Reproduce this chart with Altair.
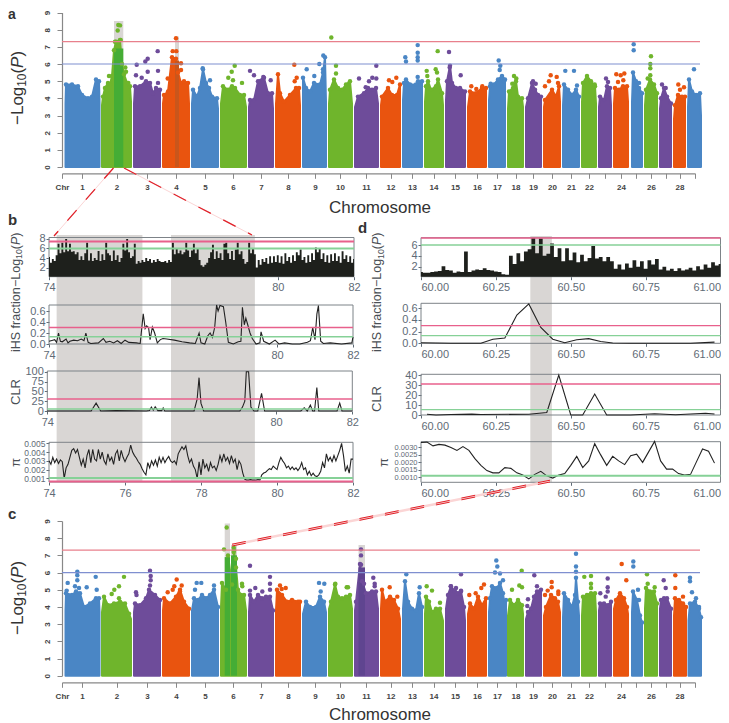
import bisect
import altair as alt
import pandas as pd

W, H, M = 713, 716, 8
FONT = "Liberation Sans"
COLORS = ["#4a86c5", "#6fb52c", "#6e4c9a", "#e9540f"]
GROUPS = ["blue", "green", "purple", "orange"]

# ---------- genome layout ----------
chr_starts = [62, 101, 133, 162, 191, 220, 248, 275, 302, 328, 354, 380, 402, 424, 445, 467, 488, 507, 525, 543, 562, 581, 598, 613, 631, 644, 659, 673, 687]
tick_pos = [62, 82, 116.5, 147, 176, 205, 233, 261, 288, 315, 340, 366, 390.5, 412, 433.5, 455, 477, 497, 515.5, 533, 552, 571, 589, 604.5, 621, 636, 651, 665.5, 679.5, 694.5]
tick_lab = ["Chr", "1", "2", "3", "4", "5", "6", "7", "8", "9", "10", "11", "12", "13", "14", "15", "16", "17", "18", "19", "20", "21", "22", "", "24", "", "26", "", "28", ""]

# ---------- panel a ----------
a_x = [
 [64.5,66,72,78,82,88,92,96,99,100.5],[101,103,105,108,110,112,114,116,120,122,124,127,130,132],
 [133,135,140,146,150,153,156,160,161],[162,164,168,172,176,178,181,184,188,190],
 [191,193,197,200,203,206,209,212,217,219],[220,223,228,232,235,240,244,247],
 [248,250,254,258,264,268,272,274],[275,278,280,284,290,296,299,301],
 [302,303,306,310,314,320,323,325,327],[328,330,334,338,342,346,350,353],
 [354,358,364,368,372,376,379],[380,382,388,392,397,400,401],[402,404,406,410,416,418,422,423],
 [424,426,428,431,436,438,442,444],[445,447,450,452,456,460,465,466],[467,470,476,482,486,487],
 [488,490,494,498,502,505,506],[507,509,513,516,518,522,524],[525,528,532,535,538,541,542],
 [543,545,552,556,559,561],[562,564,568,572,576,579,580],[581,583,587,591,595,597],
 [598,600,604,607,610,612],[613,615,619,623,627,629],[631,633,636,639,642,643],
 [644,646,650,654,657,658],[659,661,664,667,671,672],[673,675,678,682,685,686],[687,689,692,696,700,702]]
a_y = [
 [3.7,4.8,4.8,4.7,4.2,4.0,4.1,5.1,5.0,3.8],[3.6,4.1,4.6,4.9,4.8,5.3,6.8,7.3,7.4,6.0,5.4,4.9,4.7,3.8],
 [3.7,4.7,4.7,5.0,4.9,4.3,4.6,4.5,3.6],[3.7,4.2,4.4,6.4,6.3,5.5,4.9,5.0,4.9,3.7],
 [3.7,4.5,4.1,4.6,5.7,4.9,4.6,4.1,4.0,3.4],[3.7,4.7,4.5,4.7,4.6,4.2,4.2,3.5],
 [3.5,3.9,3.9,5.0,5.2,4.3,4.3,3.4],[3.7,5.4,4.3,3.8,4.2,4.6,4.6,3.6],
 [3.8,5.2,4.6,4.4,4.9,4.8,5.5,6.4,3.8],[3.7,4.5,5.1,4.6,4.5,4.8,5.0,3.7],
 [3.5,4.1,4.3,4.6,4.5,4.6,3.7],[3.6,4.1,4.6,4.2,4.2,4.8,3.7],[3.9,4.9,5.1,4.8,4.8,5.0,5.0,3.8],
 [3.8,4.7,5.0,4.5,4.7,5.1,4.3,3.6],[3.9,5.0,5.9,4.9,4.6,4.6,4.4,3.7],[3.5,4.4,4.3,4.6,4.6,3.6],
 [3.9,4.7,4.8,5.1,5.3,5.1,3.6],[3.4,4.4,4.6,5.0,4.1,4.0,3.5],[3.5,4.0,4.9,4.5,4.2,4.1,3.5],
 [3.5,3.9,4.5,4.1,4.7,3.8],[3.6,4.8,4.5,4.2,4.5,4.1,3.5],[3.8,4.9,5.3,5.0,4.7,3.7],
 [3.5,4.1,3.9,4.7,4.6,3.6],[3.7,4.6,4.5,4.7,4.7,3.8],[3.8,5.5,5.0,4.6,4.3,3.5],
 [3.6,4.5,5.1,4.8,4.3,3.3],[3.4,4.0,4.6,4.1,3.7,3.1],[2.8,3.6,4.2,4.1,4.1,3.2],[3.5,5.1,4.4,4.2,4.3,3.0]]
a_dot_x = [118.3,120,117.7,115,120.7,125.3,126,109,128.3,136.7,157.7,147.7,145.3,158,147.7,141.7,136,158,176,172.7,176.3,181,167.7,181,202.7,210,234.7,231.7,228.3,233,242,250,254,270.7,263.3,294.3,296.7,294.7,306.7,314.3,319.3,323.3,323,331.3,336,336,359,376.3,369,372.3,376.3,365.7,389,396.3,392.3,405.3,406,417.7,417.7,417.7,417.7,417.7,426.7,427.3,437.7,435.7,437,449,460.7,449.7,471.3,482.3,476.3,498.7,500.3,499.7,490.7,504,514,516.3,512.3,533,535.7,550.7,556.7,549,545,558,565.3,574,577,594.7,606,608,616.3,620.7,624.3,618,623.3,633.7,633.7,639,651,650.3,650.3,650.3,647.7,662,665.7,678.3,684,680,694]
a_dot_y = [8.27,8.25,7.95,7.3,7.4,5.8,5.55,5.3,4.9,5.95,6.75,6.3,6.15,5.6,5.55,5.2,5.35,4.9,7.5,6.75,6.75,6.05,5.15,5.65,5.75,5.05,5.9,5.55,5.2,5.05,4.9,5.6,5.35,5.05,5.25,5.95,5.2,5.0,5.7,5.3,6.0,6.5,5.7,7.55,5.9,5.45,5.15,5.9,5.0,5.2,5.15,4.65,5.05,5.2,4.95,6.4,6.15,7.1,6.65,6.4,6.2,5.25,5.6,5.3,6.75,5.7,5.5,6.7,5.35,5.8,4.7,4.7,4.55,6.2,5.9,5.65,4.85,5.0,5.3,5.15,4.85,5.0,4.85,5.35,5.25,5.0,4.7,4.9,5.6,5.6,4.75,4.8,5.15,4.95,5.4,5.35,5.45,4.95,5.05,7.15,6.8,4.9,6.45,6.0,5.75,5.35,5.15,4.8,4.6,4.8,4.65,4.5,5.7]

# ---------- panel c ----------
c_x = [
 [64.5,66,72,76,80,84,90,96,99,100.5],[101,104,108,114,120,125,129,132],[133,135,140,146,149,155,160,161],
 [162,164,170,176,180,184,189,190],[191,194,198,202,206,210,214,218,219],[220,222,226,228,232,234,236,238,241,244,247],
 [248,250,254,258,262,266,270,273,274],[275,277,282,287,292,298,300,301],[302,306,310,316,320,324,327],
 [328,331,335,338,342,346,350,353],[354,356,360,362,366,372,376,379],[380,382,385,390,394,398,401],
 [402,405,408,412,416,419,422,423],[424,426,429,432,436,440,444],[445,448,451,455,458,461,464,466],
 [467,470,474,478,482,486,487],[488,490,492,497,500,503,506,506.5],[507,510,514,518,522,524],
 [525,528,531,534,537,541,542],[543,546,551,555,558,561],[562,564,568,572,575,576,578,580],
 [581,583,587,591,595,597],[598,600,604,608,611,612],[613,616,620,624,627,629],[631,633,637,640,642,643],
 [644,646,650,654,657,658],[659,661,664,667,671,672],[673,675,679,683,686,687],[687.5,690,695,699,701,702]]
c_y = [
 [3.8,4.8,4.7,4.9,4.8,4.0,4.2,4.5,4.5,3.7],[3.7,4.6,4.1,4.2,4.3,4.2,3.6,3.3],[3.7,4.2,4.1,4.5,5.0,4.7,4.4,3.7],
 [3.8,4.5,4.2,4.6,5.0,4.3,3.9,3.5],[3.8,4.5,4.4,4.7,4.5,4.7,5.0,4.0,3.7],[4.0,5.4,5.0,7.0,5.3,7.3,6.3,5.0,4.7,4.7,3.8],
 [3.7,4.7,4.3,4.7,4.5,4.6,4.6,3.8,3.4],[3.8,5.0,4.7,4.3,4.4,4.3,4.3,3.6],[3.6,4.3,4.0,4.0,4.6,4.3,3.7],
 [3.9,4.3,5.3,4.6,4.5,4.6,4.7,3.9],[3.8,4.3,6.5,5.5,4.8,4.9,4.9,3.9],[3.9,5.0,4.3,4.6,4.4,3.9,3.3],
 [3.9,5.5,4.3,3.9,3.8,4.8,4.0,3.3],[3.6,4.6,4.3,3.7,3.9,3.9,3.2],[3.9,4.7,5.2,4.9,4.8,4.9,4.0,3.2],
 [3.6,4.2,3.9,4.6,4.1,4.5,3.7],[3.7,4.5,5.2,5.1,5.4,4.8,4.4,3.7],[3.5,4.4,4.1,4.4,4.1,3.6],
 [3.3,3.7,3.9,4.6,4.9,5.0,3.6],[3.5,4.0,4.7,4.5,4.3,3.7],[3.4,4.8,4.4,4.0,4.7,5.7,4.3,3.5],
 [3.5,4.6,4.7,4.8,4.8,3.7],[3.8,4.2,4.2,4.1,4.3,3.6],[3.9,4.4,4.8,4.5,4.0,3.6],[3.7,4.9,4.4,3.5,3.1,2.6],
 [3.9,5.1,4.9,4.9,4.2,3.2],[3.9,4.4,4.5,4.5,3.9,3.1],[3.5,4.5,4.4,4.2,4.0,3.2],[3.2,4.2,4.3,3.9,3.4,3.0]]
c_dot_x = [77.3,77.3,77.3,95.7,67.7,86.7,75,79,96.7,66.7,124,119,114.3,111.7,119,150,150.7,150.7,150,136,136.5,176.7,174.3,181.7,167.7,172.7,180,196.7,201.3,195,214,226.7,224,233.7,233.7,236,242,242.3,250,270,270,270,255.3,250,262.3,280,285.7,281.7,319,324.3,320.7,346.7,335.3,348,361,361,361,373.3,374.7,374.7,364,389.7,397.3,406.3,419.7,426.7,432,440,461,456,450.7,461,484,481.3,469.3,475.7,496.3,497.3,495,500,503,521.7,519.3,522,512,534.3,537,528,527.3,551.7,551.7,547.7,545,558.3,558.3,576,576,576,584.3,591,591,591,607.7,607.7,607.7,600.3,605.7,621.7,626.3,633.3,633.3,638,639,647,647.7,654.7,663.7,665.7,675.3,675.3,683,690,690,692,696,699]
c_dot_y = [6.05,5.85,5.55,5.75,5.4,5.15,5.2,5.1,5.0,4.95,5.75,5.2,5.0,4.75,4.5,6.1,5.8,5.55,5.25,4.85,4.7,5.6,5.2,5.25,4.85,5.0,4.9,5.4,5.4,5.0,5.25,8.62,7.35,7.45,7.2,6.8,5.35,5.2,6.4,5.75,5.35,5.0,5.1,4.95,4.9,5.25,5.1,5.05,5.4,5.35,4.9,5.15,5.35,5.15,7.35,7.0,6.45,5.7,5.35,5.2,5.35,5.15,4.6,5.9,5.15,5.2,4.95,4.25,5.9,5.1,5.2,4.95,5.3,5.1,4.7,4.8,6.7,6.35,6.0,5.95,5.55,6.1,5.25,5.15,5.0,5.85,5.2,4.45,4.05,5.45,5.15,4.95,4.7,4.9,4.75,7.1,6.35,6.05,5.75,5.8,5.35,5.1,5.65,5.15,4.9,4.8,4.6,6.5,5.55,6.65,6.35,5.0,4.4,5.9,5.35,5.15,5.55,5.1,5.85,5.1,4.6,5.7,5.5,4.85,4.5,4.0]

# ---------- panel b ----------
b_p_start = 74.0
b_p_step = 0.05
b_p = [4.2,3.0,3.8,3.4,4.6,7.0,5.0,7.2,5.2,8.0,5.4,7.0,5.3,5.4,4.8,5.2,3.6,4.4,3.6,5.0,
 7.2,3.5,5.0,3.4,4.0,3.6,5.5,3.4,4.8,3.6,7.2,5.0,4.6,3.4,5.6,3.6,4.6,3.2,4.0,7.0,
 5.6,8.0,5.2,4.0,4.4,7.0,2.8,3.4,3.0,3.6,3.2,4.0,3.4,3.8,3.0,3.6,3.2,3.8,3.4,3.2,
 3.2,3.4,3.0,3.6,3.2,7.2,4.8,6.0,5.0,5.6,4.8,5.2,7.2,5.6,4.2,5.6,7.0,5.0,6.0,3.6,
 2.5,2.2,2.6,3.0,4.0,5.2,6.8,3.8,5.4,4.0,5.0,3.6,7.0,7.2,5.0,3.8,5.5,3.6,5.8,7.2,
 4.8,5.4,3.8,2.8,3.2,7.2,5.0,6.0,4.8,2.0,3.6,2.6,3.8,3.2,4.0,2.8,4.4,3.0,4.4,3.2,
 4.6,3.0,4.4,2.8,5.0,3.4,4.2,3.0,4.6,3.4,5.2,4.6,5.8,3.6,4.2,3.0,4.6,3.2,5.0,3.6,
 6.2,5.2,6.0,3.8,5.0,3.2,4.6,3.0,4.8,3.4,5.0,3.4,4.4,3.0,5.4,3.8,4.6,3.2,4.4,3.0,3.8]
b_ihs_x = [74,74.1,74.15,74.2,74.25,74.3,74.35,74.45,74.5,74.55,74.65,74.75,74.85,74.92,74.97,75.03,75.1,75.3,75.43,75.5,75.6,75.7,75.8,75.9,76.0,76.1,76.3,76.4,76.48,76.53,76.57,76.62,76.66,76.72,76.78,76.85,76.93,77.0,77.1,77.3,77.5,77.7,77.85,77.95,78.0,78.1,78.18,78.24,78.3,78.36,78.41,78.45,78.5,78.59,78.65,78.72,78.85,78.98,79.05,79.09,79.14,79.18,79.23,79.29,79.35,79.45,79.55,79.58,79.65,79.8,79.95,80.05,80.2,80.4,80.6,80.8,80.88,80.94,81.0,81.05,81.09,81.15,81.22,81.4,81.7,81.97,82]
b_ihs_y = [.05,.07,.08,.03,.2,.05,.04,.09,.02,.05,.07,.06,.09,.06,.2,.03,.01,.02,.1,.03,.05,.02,.06,.01,.07,.03,.02,.01,.55,.28,.33,.3,.08,.31,.2,.02,.08,.1,.09,.07,.04,.02,.01,.2,.02,.0,.15,.2,.12,.3,.71,.6,.7,.68,.4,.03,.0,.04,.05,.67,.35,.47,.35,.2,.1,.0,.02,.22,.05,.0,.07,.0,.02,.0,.0,.03,.06,.3,.08,.55,.7,.05,.01,.02,.0,.02,.13]
b_clr_x = [74,75.15,75.28,75.4,75.8,76.6,76.68,76.73,76.78,76.83,76.9,77.0,77.04,77.08,77.85,77.93,77.98,78.03,78.1,79.05,79.12,79.18,79.22,79.28,79.34,79.42,79.52,79.62,79.7,80.65,80.74,80.82,80.9,80.96,81.01,81.07,81.12,81.6,81.67,81.73,82]
b_clr_y = [0,0,20,0,1,0,1,10,2,11,1,1,8,0,0,30,85,20,0,0,10,25,100,100,10,0,0,45,0,0,8,0,15,0,0,60,0,0,20,0,0]
b_pi_start = 74.0
b_pi_step = 0.05
b_pi = [3.0,2.6,3.4,2.8,3.2,2.7,3.1,2.9,1.0,2.2,2.6,3.4,4.2,4.4,3.9,4.3,3.4,2.5,3.2,2.2,
 3.6,4.3,2.8,4.3,3.2,3.0,4.3,3.2,4.0,3.0,2.6,3.8,3.0,3.4,2.6,3.8,4.2,3.0,4.2,3.4,
 2.9,3.4,3.8,4.8,4.0,3.6,3.3,2.9,2.6,2.1,1.7,1.4,2.8,2.2,3.0,2.5,3.1,2.4,3.4,2.8,
 3.4,2.8,3.2,3.5,3.0,2.8,3.0,2.6,3.8,4.2,4.6,4.3,4.7,3.6,2.8,3.2,2.4,2.0,1.0,2.9,
 1.4,3.2,2.2,2.6,1.8,2.8,2.2,2.4,1.9,2.6,3.6,2.9,3.8,3.0,3.4,2.7,3.6,2.8,3.2,2.0,
 3.0,2.6,1.6,0.9,0.8,0.8,0.85,0.8,0.8,0.8,0.85,0.8,1.4,1.6,1.7,1.9,2.1,2.0,2.4,2.2,
 2.0,2.8,3.4,3.0,2.7,2.2,2.4,2.0,2.3,2.0,2.2,1.9,2.2,2.8,2.0,2.2,1.4,1.8,1.3,1.6,
 1.3,1.2,1.4,1.8,2.8,2.2,3.8,3.0,3.4,2.9,3.6,3.0,3.6,4.2,5.0,3.6,1.8,2.4,1.6,3.2,3.2]

# ---------- panel d ----------
d_p_start = 60.0
d_p_step = 0.0125
d_p = [1.0,0.9,0.9,1.0,1.1,1.2,2.1,1.4,1.3,0.9,1.1,1.0,4.8,1.0,1.3,1.5,1.4,1.7,1.4,1.3,
 1.1,1.0,0.6,0.5,4.0,2.5,4.5,3.0,4.8,5.2,7.3,4.5,7.2,4.0,4.4,6.3,3.8,5.4,3.0,5.4,
 3.2,4.6,2.8,4.2,3.0,3.6,5.8,3.5,3.8,3.0,3.8,3.0,1.6,2.4,1.5,2.6,1.8,3.2,2.0,3.0,
 1.6,3.2,2.4,3.4,1.5,2.0,1.3,1.6,1.2,1.7,1.3,1.5,1.8,1.3,2.1,1.5,2.4,1.8,2.8,2.2,2.5]
d_ihs_x = [60,60.1,60.2,60.24,60.28,60.32,60.36,60.40,60.44,60.48,60.52,60.56,60.6,60.64,60.7,60.9,60.98]
d_ihs_y = [.01,.0,.0,.07,.09,.48,.67,.27,.07,.01,.06,.08,.03,.005,.0,.0,.02]
d_clr_x = [60.02,60.05,60.1,60.17,60.2,60.36,60.42,60.46,60.5,60.54,60.58,60.62,60.7,60.78,60.85,60.95,60.98]
d_clr_y = [.8,0,.5,.9,.5,.8,2.5,40,0,0,21,0,0,1.2,.2,1.8,1]
d_pi_x = [60,60.02,60.04,60.06,60.08,60.1,60.12,60.14,60.16,60.18,60.2,60.22,60.24,60.26,60.28,60.3,60.32,60.34,60.36,60.38,60.4,60.42,60.44,60.46,60.48,60.5,60.52,60.54,60.56,60.58,60.6,60.62,60.64,60.66,60.68,60.7,60.72,60.74,60.76,60.78,60.8,60.82,60.84,60.86,60.88,60.9,60.92,60.94,60.96,60.98]
d_pi_y = [3.33,3.35,3.1,3.2,3.15,3.0,2.8,3.05,2.8,2.25,1.8,1.45,1.3,1.3,1.65,1.6,1.3,1.15,.9,1.2,1.4,1.1,.95,1.15,1.25,1.8,2.4,1.65,2.1,3.25,2.5,1.8,2.4,2.1,1.85,2.45,2.55,2.0,2.7,3.4,2.1,1.55,1.55,1.25,1.15,1.2,2.05,2.9,2.75,1.95]


def group_of(x):
    return GROUPS[(bisect.bisect_right(chr_starts, x) - 1) % 4]


def manhattan(xs, ys, dx, dy, top, bottom, xaxis_y, gray, dark):
    """One genome-wide panel; top/bottom are page pixels of y=9 and y=0."""
    xsc = alt.Scale(domain=[62, 695], range=[62 - M, 695 - M], nice=False, zero=False)
    ysc = alt.Scale(domain=[0, 9], range=[bottom - M, top - M], nice=False, zero=False)
    labs = "{" + ",".join(f"'{p}':'{l}'" for p, l in zip(tick_pos, tick_lab)) + "}[datum.value]||''"
    xaxis = alt.Axis(orient="bottom", values=tick_pos, labelExpr=labs, labelOverlap=False, grid=False, offset=xaxis_y - M - H,
                     labelFont=FONT, labelFontSize=8, labelFontWeight="bold", labelColor="#444444", labelPadding=5,
                     tickColor="#888888", domainColor="#888888", tickSize=5, domainWidth=1.2, tickWidth=1, labelBound=False, labelFlush=False)
    yaxis = alt.Axis(orient="left", values=list(range(10)), grid=False, offset=-(62 - M), labelAngle=270, labelAlign="center", labelBaseline="bottom",
                     labelFont=FONT, labelFontSize=8, labelFontWeight="bold", labelColor="#444444", labelPadding=6,
                     tickColor="#888888", domainColor="#888888", tickSize=5, domainWidth=1.2, tickWidth=1, labelBound=False, labelFlush=False)
    X = lambda f: alt.X(f, type="quantitative", scale=xsc, title=None, axis=xaxis)
    Y = lambda f: alt.Y(f, type="quantitative", scale=ysc, title=None, axis=yaxis)
    col = alt.Scale(domain=GROUPS, range=COLORS)
    rows = []
    for i, (cx, cy) in enumerate(zip(xs, ys)):
        for j, (px, py) in enumerate(zip(cx, cy)):
            px = px + 1 if j == 0 else px - 1 if j == len(cx) - 1 else px
            rows.append(dict(chr=i + 1, x=px, y=py, b=0.0, g=GROUPS[i % 4], edge=j in (0, len(cx) - 1)))
    env = pd.DataFrame(rows)
    dots = pd.DataFrame(dict(x=dx, y=dy))
    dots["g"] = [group_of(v) for v in dx]
    tops = pd.concat([env[~env.edge][["x", "y", "g"]], dots])
    gr = pd.DataFrame(gray, columns=["x0", "x1", "y1"])
    dk = pd.DataFrame(dark, columns=["x0", "x1", "y1", "c"])
    hl = pd.DataFrame(dict(x0=[62, 62], x1=[700, 700], y=[7.3, 6.0], c=["#e8808c", "#7f8fd0"]))
    return alt.layer(
        alt.Chart(gr).mark_rect(fill="#d9d6d4").encode(X("x0"), x2="x1", y=Y("y1"), y2=alt.Y2(datum=0)),
        alt.Chart(env).mark_area(strokeWidth=2, strokeJoin="round").encode(
            X("x"), Y("y"), y2="b",
            fill=alt.Fill("g:N", scale=col, legend=None), stroke=alt.Stroke("g:N", scale=col, legend=None), detail="chr:N"),
        alt.Chart(dk).mark_rect().encode(X("x0"), x2="x1", y=Y("y1"), y2=alt.Y2(datum=0), fill=alt.Fill("c:N", scale=None)),
        alt.Chart(tops).mark_circle(size=20, opacity=1).encode(X("x"), Y("y"), fill=alt.Fill("g:N", scale=col, legend=None)),
        alt.Chart(hl).mark_rule(strokeWidth=1.2).encode(X("x0"), x2="x1", y=Y("y"), stroke=alt.Stroke("c:N", scale=None)),
    )


AX = "#5f6b76"
PINK, GRN = "#e8608c", "#86d197"


def sub(xd, xr, yd, yr, xt, yt, xf, yf, hl, kind, data, lw=1.5, flush=False, ysize=11):
    xsc = alt.Scale(domain=xd, range=[xr[0] - M, xr[1] - M], nice=False, zero=False)
    ysc = alt.Scale(domain=yd, range=[yr[0] - M, yr[1] - M], nice=False, zero=False)
    xaxis = alt.Axis(orient="bottom", values=xt, format=xf, grid=False, domain=False, offset=yr[0] - M - H, labelFont=FONT, labelFontSize=11,
                     labelColor=AX, tickColor=AX, tickSize=3, labelPadding=2, labelFlush=flush, labelBound=False, labelOverlap=False)
    yaxis = alt.Axis(orient="left", values=yt, format=yf, grid=False, domain=False, offset=-(xr[0] - M), labelFont=FONT, labelFontSize=ysize,
                     labelColor=AX, tickColor=AX, tickSize=3, labelPadding=1, labelOverlap=False, labelFlush=False, labelBound=False)
    X = lambda f: alt.X(f, type="quantitative", scale=xsc, title=None, axis=xaxis)
    Y = lambda f: alt.Y(f, type="quantitative", scale=ysc, title=None, axis=yaxis)
    frame = pd.DataFrame(dict(x0=[xd[0]], x1=[xd[1]], y0=[yd[0]], y1=[yd[1]]))
    hd = pd.DataFrame(dict(x0=[xd[0]] * len(hl), x1=[xd[1]] * len(hl), y=[h[0] for h in hl], c=[h[1] for h in hl]))
    df = pd.DataFrame(data)
    if kind == "area":
        df["b"] = yd[0]
        m = alt.Chart(df).mark_area(interpolate="step", color="#1e201c").encode(X("x"), Y("y"), y2="b")
    else:
        m = alt.Chart(df).mark_line(color="#222222", strokeWidth=1.1).encode(X("x"), Y("y"))
    return alt.layer(
        alt.Chart(frame).mark_rect(fillOpacity=0, stroke="#7d8388", strokeWidth=1).encode(X("x0"), x2="x1", y=Y("y0"), y2="y1"),
        m,
        alt.Chart(hd).mark_rule(strokeWidth=lw).encode(X("x0"), x2="x1", y=Y("y"), stroke=alt.Stroke("c:N", scale=None)),
    )


def seq(start, step, vals, scale=1.0):
    return dict(x=[start + i * step for i in range(len(vals))], y=[v * scale for v in vals])


def band(x0, x1, xd, xr, top, bottom):
    xsc = alt.Scale(domain=xd, range=[xr[0] - M, xr[1] - M], nice=False, zero=False)
    return alt.Chart(pd.DataFrame(dict(x0=[x0], x1=[x1]))).mark_rect(fill="#d9d6d4").encode(
        alt.X("x0:Q", scale=xsc, axis=None, title=None), x2="x1", y=alt.value(top - M), y2=alt.value(bottom - M))


def txt(s, x, y, size, angle=0, weight="normal", style="normal", color="#333333", align="left"):
    return alt.Chart(pd.DataFrame(dict(t=[s]))).mark_text(
        font=FONT, fontSize=size, angle=angle, fontWeight=weight, fontStyle=style, color=color, align=align, baseline="alphabetic"
    ).encode(text="t:N", x=alt.value(x - M), y=alt.value(y - M))


def logp(x, y, s, color="#333333"):
    return [txt("\u2212Log", x, y, s, 270, color=color),
            txt("10", x + .2 * s, y - 2.25 * s, .7 * s, 270, color=color),
            txt("(", x, y - 3.03 * s, s, 270, color=color),
            txt("P", x, y - 3.36 * s, s, 270, style="italic", color=color),
            txt(")", x, y - 4.03 * s, s, 270, color=color)]


def link(x1, y1, x2, y2, color, width, dash=None):
    kw = dict(stroke=color, strokeWidth=width)
    if dash:
        kw["strokeDash"] = dash
    return alt.Chart(pd.DataFrame(dict(k=[0]))).mark_rule(**kw).encode(
        x=alt.value(x1 - M), y=alt.value(y1 - M), x2=alt.value(x2 - M), y2=alt.value(y2 - M))


BX, DX = [74, 82], [60, 61]
DR = [421, 720.5]
bt = [74, 76, 78, 80, 82]
dt = [60, 60.25, 60.5, 60.75, 61]
layers = [
    band(74.2, 76.45, BX, [49, 354], 235, 482),
    band(77.2, 79.4, BX, [49, 354], 235, 482),
    band(60.365, 60.437, DX, DR, 236, 482),
    manhattan(a_x, a_y, a_dot_x, a_dot_y, 12.5, 167, 173.3,
              [(114, 123.3, 8.5), (175, 179, 7.6)],
              [(114, 123.3, 6.9, "#45ad35"), (175, 179, 6.2, "#c9561c")]),
    manhattan(c_x, c_y, c_dot_x, c_dot_y, 521, 675.7, 682.3,
              [(224.7, 230, 8.85), (231, 237, 7.6), (358.5, 365, 7.6)],
              [(224.7, 230, 6.9, "#45ad35"), (231, 237, 7.0, "#45ad35"), (358.5, 365, 6.3, "#5f4590")]),
    sub(BX, [49, 354], [0.1, 8.3], [276.7, 237.5], bt, [2, 4, 6, 8], "d", "d", [(7.44, PINK), (6, GRN)], "area", seq(b_p_start, b_p_step, b_p), 2),
    sub(BX, [49, 353], [0, 0.71], [344, 305], bt, [0, .2, .4, .6], "d", ".1f", [(.3, PINK), (.13, GRN)], "line", dict(x=b_ihs_x, y=b_ihs_y), 1.5),
    sub(BX, [47.3, 352.3], [0, 102], [411, 371], bt, [0, 25, 50, 75, 100], "d", "d", [(30.5, PINK), (5, GRN)], "line", dict(x=b_clr_x, y=b_clr_y), 1.5),
    sub(BX, [49, 353], [.00058, .00512], [482, 442.3], bt, [.001, .002, .003, .004, .005], "d", ".3f", [(.00065, PINK), (.00104, GRN)], "line", seq(b_pi_start, b_pi_step, b_pi, .001), 2, ysize=8.5),
    sub(DX, DR, [.15, 7.35], [276.7, 237.7], dt, [2, 4, 6], ".2f", "d", [(7.3, PINK), (6, GRN)], "area", seq(d_p_start, d_p_step, d_p), 1.5, flush=True),
    sub(DX, DR, [0, .68], [343.3, 303.3], dt, [0, .2, .4, .6], ".2f", ".1f", [(.3, PINK), (.13, GRN)], "line", dict(x=d_ihs_x, y=d_ihs_y), 1.3, flush=True),
    sub(DX, DR, [0, 40.7], [415, 374.3], dt, [0, 10, 20, 30, 40], ".2f", "d", [(31, PINK), (5.3, GRN)], "line", dict(x=d_clr_x, y=d_clr_y), 1.3, flush=True),
    sub(DX, DR, [.00067, .00338], [482.3, 441.7], dt, [.001, .0015, .002, .0025, .003], ".2f", ".4f", [(.0011, GRN)], "line", dict(x=d_pi_x, y=[v * .001 for v in d_pi_y]), 2, flush=True, ysize=7.5),
    # connectors
    link(113.5, 168, 54, 236, "#fbd5d5", 1), link(113.5, 168, 54, 236, "#e0222a", 1.3, [14, 14]),
    link(124, 168, 252, 235, "#fbd5d5", 1), link(124, 168, 252, 235, "#e0222a", 1.3, [14, 14]),
    link(232, 545, 550, 481, "#fbd5d5", 2.5),
    link(232, 544.2, 550, 480.2, "#e0222a", 1, [14, 12]), link(232, 546, 550, 482, "#e0222a", 1, [14, 12]),
    # text
    txt("a", 8, 19, 14, weight="bold"), txt("b", 8, 225, 15, weight="bold"),
    txt("c", 8, 519, 15, weight="bold"), txt("d", 358, 233, 15, weight="bold"),
    txt("Chromosome", 380, 213, 17, align="center"), txt("Chromosome", 380, 720, 17, align="center"),
    *logp(23, 125, 17), *logp(23, 635, 17),
    *logp(19.5, 287, 12.5, "#4a4f55"), *logp(381, 287, 12.5, "#4a4f55"),
    txt("iHS fraction", 19.5, 352, 12.5, 270, color="#4a4f55"), txt("iHS fraction", 381, 352, 12.5, 270, color="#4a4f55"),
    txt("CLR", 20, 405, 13, 270, color="#4a4f55"), txt("CLR", 381, 412, 13, 270, color="#4a4f55"),
    txt("\u03c0", 20, 467, 13, 270, color="#4a4f55"), txt("\u03c0", 388, 467, 13, 270, color="#4a4f55"),
]

chart = alt.layer(*layers).resolve_scale(
    x="independent", y="independent", fill="independent", stroke="independent"
).resolve_axis(x="independent", y="independent").properties(
    width=W, height=H, padding=0, autosize=alt.AutoSizeParams(type="none")
).configure_view(stroke=None)

chart.save("out.html", embed_options={"renderer": "svg", "actions": False})
